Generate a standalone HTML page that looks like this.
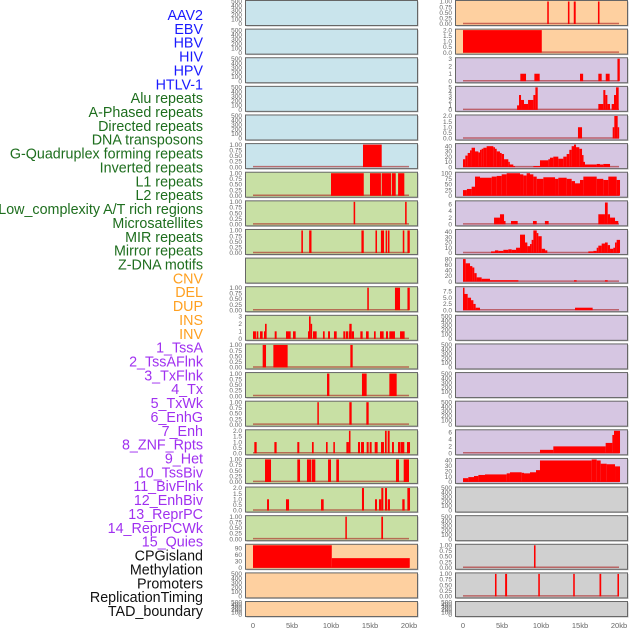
<!DOCTYPE html>
<html><head><meta charset="utf-8"><style>
body{margin:0;background:#fff;width:630px;height:630px;overflow:hidden}
svg{display:block;font-family:"Liberation Sans",sans-serif}
</style></head><body>
<svg id="chart" width="630" height="630" viewBox="0 0 630 630" xmlns="http://www.w3.org/2000/svg"></svg>
<script>
const trackLabels=["AAV2","EBV","HBV","HIV","HPV","HTLV-1","Alu repeats","A-Phased repeats","Directed repeats","DNA transposons","G-Quadruplex forming repeats","Inverted repeats","L1 repeats","L2 repeats","Low_complexity A/T rich regions","Microsatellites","MIR repeats","Mirror repeats","Z-DNA motifs","CNV","DEL","DUP","INS","INV","1_TssA","2_TssAFlnk","3_TxFlnk","4_Tx","5_TxWk","6_EnhG","7_Enh","8_ZNF_Rpts","9_Het","10_TssBiv","11_BivFlnk","12_EnhBiv","13_ReprPC","14_ReprPCWk","15_Quies","CPGisland","Methylation","Promoters","ReplicationTiming","TAD_boundary"];
const labelColors=["#1a1aff","#1a1aff","#1a1aff","#1a1aff","#1a1aff","#1a1aff","#1e6e1e","#1e6e1e","#1e6e1e","#1e6e1e","#1e6e1e","#1e6e1e","#1e6e1e","#1e6e1e","#1e6e1e","#1e6e1e","#1e6e1e","#1e6e1e","#1e6e1e","#ffa020","#ffa020","#ffa020","#ffa020","#ffa020","#a030f0","#a030f0","#a030f0","#a030f0","#a030f0","#a030f0","#a030f0","#a030f0","#a030f0","#a030f0","#a030f0","#a030f0","#a030f0","#a030f0","#a030f0","#111","#111","#111","#111","#111"];
const xTicks=[0,5,10,15,20];
const xTickLabels=["0","5kb","10kb","15kb","20kb"];
// segments: [startKb, endKb, value]
const L_GQ=[[14.1,16.5,1]];
const L_L1=[[10.0,14.2,1],[15.0,16.4,1],[16.5,17.7,1],[17.8,18.3,1],[18.6,19.4,1]];
const L_LC=[[12.9,13.1,1],[19.5,19.7,1]];
const L_MIR=[[6.2,6.4,1],[7.2,7.5,1],[13.9,14.2,1],[15.7,15.9,1],[16.4,16.8,1],[17.0,17.2,1],[17.3,17.5,1],[19.2,19.4,1],[19.8,20.1,1]];
const L_DEL=[[14.65,14.85,1],[18.2,18.85,1],[19.8,20.1,1]];
const L_INS=[[0,0.38,1],[0.47,0.68,1],[0.9,1.24,1],[1.41,1.54,1],[1.54,1.75,2],[2.78,3.03,1],[4.23,4.83,1],[5.13,5.47,1],[7.05,7.18,1],[7.18,7.39,3],[7.39,7.56,2],[7.69,8.16,1],[8.97,9.19,1],[9.62,9.87,1],[10.38,10.73,1],[11.58,11.84,1],[11.92,12.18,1],[12.27,12.35,1],[12.35,12.65,2],[12.65,12.95,1],[13.76,14.06,1],[14.49,14.83,1],[15.51,15.73,1],[16.28,16.75,1],[17.05,17.31,1],[17.48,18.2,1],[18.85,19.44,1]];
const L_R12=[[1.24,1.67,1],[2.61,4.44,1],[12.48,12.78,1]];
const L_R13=[[9.49,9.79,1],[13.97,14.57,1],[17.48,18.42,1]];
const L_R14=[[8.25,8.42,1],[12.35,12.65,1],[14.53,14.83,1]];
const L_R15=[[0.17,0.47,1],[2.74,3.03,1],[5.68,5.94,1],[7.56,7.78,1],[9.36,9.57,1],[10.3,10.5,1],[11.97,12.3,1],[12.3,12.5,2],[13.46,13.72,1],[13.85,14.23,1],[14.57,14.83,1],[14.96,15.21,1],[15.6,15.98,1],[16.41,16.79,1],[16.92,17.14,2],[17.27,17.52,2],[17.82,18.07,1],[18.59,18.85,1],[18.9,19.4,1],[19.74,20.13,1]];
const L_R16=[[1.54,2.31,1],[5.68,6.03,1],[6.92,7.48,1],[7.56,7.99,1],[9.62,10.0,1],[10.68,11.02,1],[18.33,18.72,1],[19.32,20.0,1]];
const L_R17=[[1.8,2.05,1],[4.23,4.62,1],[8.72,9.06,1],[13.97,14.23,2],[15.64,15.9,1],[16.15,16.45,1],[16.45,16.71,2],[16.92,17.18,2],[17.27,17.56,1],[19.14,19.44,1],[19.79,20.13,2]];
const L_R18=[[11.84,12.01,1],[16.45,16.67,1]];
const L_CPG=[[0,10.1,105],[10.1,20.1,45]];
const R_R0=[[10.8,11.0,1],[13.45,13.65,1],[14.2,14.45,1],[17.3,17.5,1]];
const R_R1=[[0,10.1,2]];
const R_R2=[[7.35,8.08,1],[9.15,9.83,1],[15.0,15.4,1],[17.35,17.78,1],[18.3,18.8,1],[19.8,20.1,3]];
const R_R3=[[6.93,7.18,1],[7.18,7.44,3.3],[7.44,7.82,2.2],[7.82,8.34,1.3],[8.34,9.02,2.2],[9.02,9.28,3.3],[9.28,9.58,5],[17.35,17.99,1.3],[17.99,18.25,4.4],[18.25,18.51,3.3],[18.51,18.85,1.3],[19.06,19.36,1.3],[19.36,19.62,3.3],[19.62,19.96,5]];
const R_R4=[[14.74,15.26,1],[19.19,19.4,1],[19.4,19.83,2],[19.83,20.0,1]];
const R_GQ=[[0,0.3,15],[0.3,0.6,22],[0.6,0.9,27],[0.9,1.1,32],[1.1,1.54,37],[1.54,1.97,30],[1.97,2.18,28],[2.18,2.39,33],[2.39,2.61,35],[2.61,3.03,37],[3.03,3.46,40],[3.46,3.89,40],[3.89,4.1,38],[4.1,4.32,35],[4.32,4.74,30],[4.74,4.96,27],[4.96,5.26,25],[5.26,5.81,15],[5.81,5.94,10],[5.94,6.45,5],[6.45,6.67,2],[9.02,9.87,2],[9.87,10.94,13],[10.94,11.15,15],[11.15,11.58,18],[11.58,12.22,20],[12.22,12.86,16],[12.86,13.29,20],[13.29,13.63,25],[13.63,13.93,33],[13.93,14.23,40],[14.23,14.49,43],[14.49,14.91,38],[14.91,15.26,35],[15.26,15.43,23],[15.43,15.64,10],[15.64,17.14,5],[17.14,17.56,6],[17.56,17.99,5],[17.99,18.85,6]];
const R_L1=[[0,0.5,25],[0.5,1.11,30],[1.11,1.54,40],[1.54,2.18,85],[2.18,3.68,80],[3.68,4.32,85],[4.32,4.96,88],[4.96,5.6,95],[5.6,7.31,100],[7.31,7.74,95],[7.74,8.16,90],[8.16,8.59,100],[8.59,9.02,95],[9.02,9.45,85],[9.45,10.3,75],[10.3,11.8,82],[11.8,12.22,75],[12.22,13.29,80],[13.29,13.93,75],[13.93,14.36,65],[14.36,15.0,55],[15.0,15.43,70],[15.43,17.14,85],[17.14,17.99,75],[17.99,18.63,70],[18.63,19.7,85],[19.7,20.13,70]];
const R_LC=[[3.98,4.74,2],[4.74,5.26,3],[5.26,5.4,1],[6.15,7.01,1],[8.97,9.45,1],[10.5,10.98,1],[17.35,18.2,3],[18.2,18.55,6.5],[18.55,18.85,3],[18.85,19.49,2],[19.49,19.91,1]];
const R_MIR=[[3.59,4.1,3],[4.1,4.53,5],[4.53,5.17,4],[5.17,5.81,6],[5.81,6.24,7],[6.24,6.8,6],[6.8,7.31,10],[7.31,7.95,35],[7.95,8.25,20],[8.25,8.59,13],[8.59,8.8,17],[8.8,9.02,25],[9.02,9.45,43],[9.45,9.66,38],[9.66,10.09,32],[10.09,10.52,8],[10.52,10.81,5],[16.07,16.71,3],[16.71,17.14,4],[17.14,17.35,10],[17.35,17.78,14],[17.78,18.2,18],[18.2,18.55,20],[18.55,18.85,15],[18.85,19.27,8],[19.27,19.49,10],[19.49,19.7,20],[19.7,20.13,25]];
const R_ZDNA=[[0,0.34,80],[0.34,0.9,65],[0.9,1.2,55],[1.2,1.45,50],[1.45,1.75,30],[1.75,2.39,15],[2.39,3.46,10],[3.46,7.1,5],[14.23,14.57,5],[18.2,18.55,5]];
const R_DEL=[[0,0.17,9],[0.17,0.6,6.5],[0.6,1.03,5],[1.03,1.33,4],[1.33,1.62,2.5],[1.62,2.18,1],[14.36,16.62,1]];
const R_R15=[[9.87,11.58,1],[11.58,18.29,2],[18.29,19.15,3],[19.15,19.36,5.3],[19.36,20.13,6.5]];
const R_R16=[[0,0.68,7],[0.68,1.41,9],[1.41,1.97,11],[1.97,2.82,13],[2.82,5.6,14],[5.6,6.02,16],[6.02,7.52,18],[7.52,7.82,17],[7.82,8.59,16],[8.59,9.36,18],[9.36,9.87,22],[9.87,16.5,40],[16.5,17.14,42],[17.14,17.65,40],[17.65,18.42,34],[18.42,19.49,33],[19.49,20.13,29]];
const R_R19=[[9.1,9.3,1]];
const R_R20=[[4.1,4.3,1],[5.4,5.65,1],[9.65,9.85,1],[14.13,14.33,1],[17.5,17.72,1],[19.8,20.0,1]];

const T500=[[500,"500"],[400,"400"],[300,"300"],[200,"200"],[100,"100"],[0,"0"]];
const T1=[[1,"1.00"],[0.75,"0.75"],[0.5,"0.50"],[0.25,"0.25"],[0,"0.00"]];
const T2=[[2,"2.0"],[1.5,"1.5"],[1,"1.0"],[0.5,"0.5"],[0,"0.0"]];
const T3=[[3,"3"],[2,"2"],[1,"1"],[0,"0"]];
const T5=[[5,"5"],[4,"4"],[3,"3"],[2,"2"],[1,"1"],[0,"0"]];
const T40=[[40,"40"],[30,"30"],[20,"20"],[10,"10"],[0,"0"]];
const T100=[[100,"100"],[75,"75"],[50,"50"],[25,"25"],[0,"0"]];
const T6=[[6,"6"],[4,"4"],[2,"2"],[0,"0"]];
const T80=[[80,"80"],[60,"60"],[40,"40"],[20,"20"],[0,"0"]];
const T75=[[7.5,"7.5"],[5,"5.0"],[2.5,"2.5"],[0,"0.0"]];
const T90=[[90,"90"],[60,"60"],[30,"30"],[0,"0"]];

const BLUE="#c9e4ec",GREEN="#c8e0a4",PEACH="#fed0a0",LAV="#d6c6e2",GREY="#d0d0d0";
const panels=[
[0,0,BLUE,T500,500,null],[0,1,BLUE,T500,500,null],[0,2,BLUE,T500,500,null],[0,3,BLUE,T500,500,null],[0,4,BLUE,T500,500,null],
[0,5,BLUE,T1,1,L_GQ],[0,6,GREEN,T1,1,L_L1],[0,7,GREEN,T1,1,L_LC],[0,8,GREEN,T1,1,L_MIR],[0,9,GREEN,null,1,null],
[0,10,GREEN,T1,1,L_DEL],[0,11,GREEN,T3,3,L_INS],[0,12,GREEN,T1,1,L_R12],[0,13,GREEN,T1,1,L_R13],[0,14,GREEN,T1,1,L_R14],
[0,15,GREEN,T2,2,L_R15],[0,16,GREEN,T1,1,L_R16],[0,17,GREEN,T2,2,L_R17],[0,18,GREEN,T1,1,L_R18],
[0,19,PEACH,T90,105,L_CPG],[0,20,PEACH,T500,500,null],[0,21,PEACH,T500,500,null],
[1,0,PEACH,T1,1,R_R0],[1,1,PEACH,T2,2,R_R1],[1,2,LAV,T3,3,R_R2],[1,3,LAV,T5,5,R_R3],[1,4,LAV,T2,2,R_R4],
[1,5,LAV,T40,43,R_GQ],[1,6,LAV,T100,100,R_L1],[1,7,LAV,T6,6.7,R_LC],[1,8,LAV,T40,43,R_MIR],[1,9,LAV,T80,80,R_ZDNA],
[1,10,LAV,T75,9,R_DEL],[1,11,LAV,T500,500,null],[1,12,LAV,T500,500,null],[1,13,LAV,T500,500,null],[1,14,LAV,T500,500,null],
[1,15,LAV,T6,6.5,R_R15],[1,16,LAV,T40,42,R_R16],[1,17,GREY,T500,500,null],[1,18,GREY,T500,500,null],
[1,19,GREY,T1,1,R_R19],[1,20,GREY,T1,1,R_R20],[1,21,GREY,T500,500,null]];

const svg=document.getElementById('chart');
const NS="http://www.w3.org/2000/svg";
function mk(tag,attrs,parent){const e=document.createElementNS(NS,tag);for(const k in attrs)e.setAttribute(k,attrs[k]);(parent||svg).appendChild(e);return e;}
const colX=[245,455];
const PW=172;
function xScale(col,kb){return colX[col]+8+kb*7.8;}
function rowTop(r){return r*28.62;}

trackLabels.forEach((t,i)=>{
  const el=mk('text',{x:203,y:20+i*13.86,'text-anchor':'end','font-size':'14.3px',fill:labelColors[i]});
  el.textContent=t;
  
  
});

panels.forEach(p=>{
  const [col,row,bg,ticks,ymax,segs]=p;
  const top=rowTop(row);
  const h=row===21?15:25;
  const g=mk('g',{});
  
  
  mk('rect',{x:colX[col]+1.5,y:top+1.5,width:PW,height:h,fill:'#bbb'},g);
  const bgr=mk('rect',{x:colX[col]+0.5,y:top+0.5,width:PW,height:h,fill:bg,stroke:'#666','stroke-width':1},g);
  
  
  const yb=top+h-1,yt=top+1.5;
  const yS=v=>yb-Math.min(v,ymax)/ymax*(yb-yt);
  if(ticks){ticks.forEach(([v,l])=>{
    const t=mk('text',{x:colX[col]-3,y:yS(v)+2.2,'text-anchor':'end','font-size':'6.5px',fill:'#666'},g);
    t.textContent=l;
    
    
  });}
  if(segs){
    const bl=mk('line',{x1:xScale(col,0),x2:xScale(col,20),y1:yb-0.5,y2:yb-0.5,stroke:'rgba(170,30,30,0.6)','stroke-width':1.5},g);
    
    
    segs.forEach(([s,e,v])=>{
      const x1=xScale(col,s),x2=xScale(col,e);
      const r=mk('rect',{x:x1,y:yS(v),width:Math.max(x2-x1,1.5),height:yb-yS(v),fill:'#ff0000'},g);
      
      
    });
  }
});
[0,1].forEach(col=>{
  xTicks.forEach((v,i)=>{
    const t=mk('text',{x:xScale(col,v),y:628,'text-anchor':'middle','font-size':'7.5px',fill:'#666'});
    t.textContent=xTickLabels[i];
    
    
  });
});
</script>
</body></html>
